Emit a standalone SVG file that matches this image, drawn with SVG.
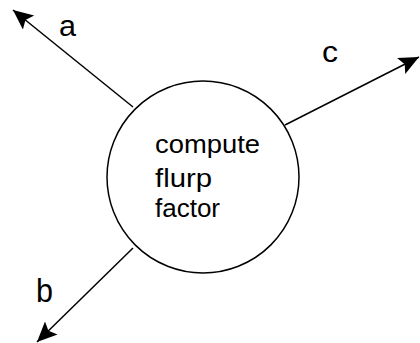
<svg xmlns="http://www.w3.org/2000/svg" width="420" height="343" viewBox="0 0 420 343">
<style>
.edge{stroke:#000;stroke-width:1.5;fill:none}
.lbl{font-family:"Liberation Sans",Arial,sans-serif;fill:#000}
</style>
<defs>
<marker id="arr" markerUnits="userSpaceOnUse" markerWidth="22" markerHeight="20" refX="20" refY="9" orient="auto">
<path d="M0,0 L20,9 L0,18 L4,9 Z" fill="#000"/>
</marker>
</defs>
<rect width="420" height="343" fill="#fff"/>
<g id="connectors">
<line class="edge" x1="133" y1="107" x2="13" y2="10" marker-end="url(#arr)"/>
<line class="edge" x1="285" y1="125" x2="419" y2="57" marker-end="url(#arr)"/>
<line class="edge" x1="133" y1="248" x2="37" y2="342" marker-end="url(#arr)"/>
</g>
<g id="node-process">
<circle cx="203" cy="177" r="96" fill="#fff" stroke="#000" stroke-width="1.5"/>
<text class="lbl" font-size="26" x="155" y="153" textLength="105" lengthAdjust="spacingAndGlyphs">compute</text>
<text class="lbl" font-size="26" x="155" y="187" textLength="57" lengthAdjust="spacingAndGlyphs">flurp</text>
<text class="lbl" font-size="26" x="155" y="217" textLength="65" lengthAdjust="spacingAndGlyphs">factor</text>
</g>
<g id="labels">
<text class="lbl" font-size="30" x="59" y="36" textLength="17" lengthAdjust="spacingAndGlyphs">a</text>
<text class="lbl" font-size="30" x="322" y="62" textLength="16" lengthAdjust="spacingAndGlyphs">c</text>
<text class="lbl" font-size="33" x="36" y="302" textLength="17" lengthAdjust="spacingAndGlyphs">b</text>
</g>
</svg>
